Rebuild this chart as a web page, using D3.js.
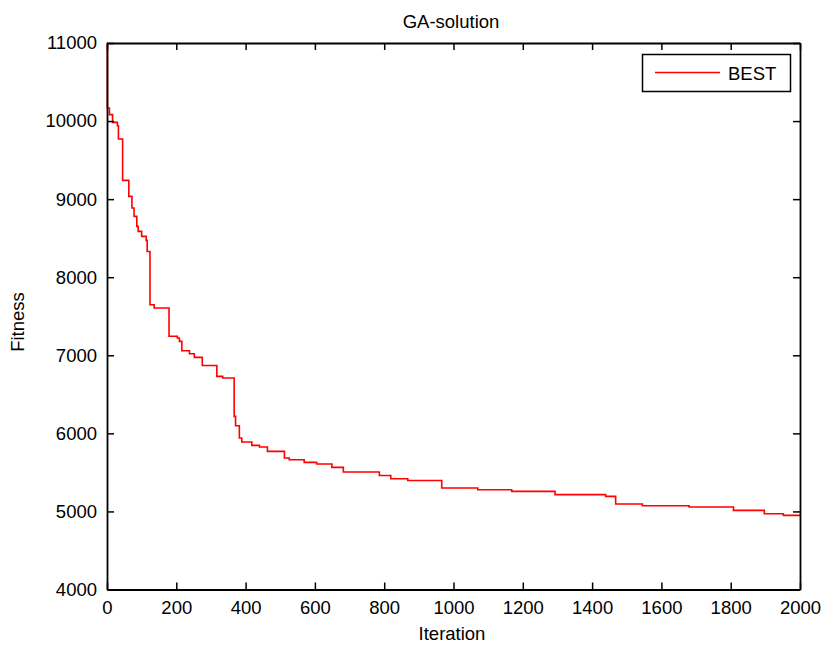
<!DOCTYPE html>
<html>
<head>
<meta charset="utf-8">
<script src="https://cdn.jsdelivr.net/npm/d3@7"></script>
<style>
  body { margin: 0; background: #fff; }
  text { font-family: "Liberation Sans", Arial, sans-serif; fill: #000; }
</style>
</head>
<body>
<svg width="825" height="645"></svg>
<script>
// data: iterations where the best fitness changes, and the new value
const iterations = [0, 1, 7, 16, 30, 33, 45, 63, 72, 78, 86, 90, 100, 113, 116, 124, 136,
  179, 203, 209, 216, 238, 252, 275, 317, 334, 367, 371, 382, 389, 418, 440, 463, 512,
  526, 569, 605, 649, 682, 786, 819, 868, 966, 1070, 1168, 1293, 1439, 1468, 1545, 1680,
  1808, 1897, 1952, 2000];
const fitness = [11000, 10168, 10082, 9983, 9941, 9770, 9240, 9035, 8887, 8779, 8651, 8587,
  8523, 8472, 8330, 7648, 7606, 7243, 7221, 7178, 7059, 7020, 6973, 6870, 6730, 6709,
  6217, 6098, 5940, 5889, 5846, 5825, 5769, 5684, 5662, 5628, 5607, 5564, 5505, 5461,
  5419, 5397, 5300, 5278, 5257, 5215, 5193, 5095, 5073, 5056, 5013, 4971, 4950, 4950];
const xTicks = d3.range(0, 2001, 200);
const yTicks = d3.range(4000, 11001, 1000);

const svg = d3.select("svg");
const mLeft = 107, mRight = 800, mTop = 43, mBottom = 589.5;

const x = d3.scaleLinear().domain([0, 2000]).range([mLeft, mRight]);
const y = d3.scaleLinear().domain([4000, 11000]).range([mBottom, mTop]);

const pts = iterations.map((d, i) => [d, fitness[i]]);

// curve
svg.append("path")
  .datum(pts)
  .attr("fill", "none")
  .attr("stroke", "#ff0000")
  .attr("stroke-width", 1.6)
  .attr("d", d3.line().x(d => x(d[0])).y(d => y(d[1])).curve(d3.curveStepAfter));

// axes (ticks pointing inward, mirrored on top and right)
const styleAxis = g => {
  g.selectAll(".domain").attr("stroke", "#000").attr("stroke-width", 1.8);
  g.selectAll(".tick line").attr("stroke", "#000").attr("stroke-width", 1.5);
  g.selectAll("text").attr("font-size", "18.5px").attr("font-family", "Liberation Sans, Arial, sans-serif");
};

svg.append("g")
  .attr("transform", `translate(0,${mBottom})`)
  .call(d3.axisBottom(x).tickValues(xTicks).tickSizeInner(-7).tickSizeOuter(0).tickPadding(11).tickFormat(d3.format("d")))
  .call(styleAxis);

svg.append("g")
  .attr("transform", `translate(0,${mTop})`)
  .call(d3.axisTop(x).tickValues(xTicks).tickSizeInner(-7).tickSizeOuter(0).tickFormat(""))
  .call(styleAxis);

svg.append("g")
  .attr("transform", `translate(${mLeft},0)`)
  .call(d3.axisLeft(y).tickValues(yTicks).tickSizeInner(-7).tickSizeOuter(0).tickPadding(10).tickFormat(d3.format("d")))
  .call(styleAxis);

svg.append("g")
  .attr("transform", `translate(${mRight},0)`)
  .call(d3.axisRight(y).tickValues(yTicks).tickSizeInner(-7).tickSizeOuter(0).tickFormat(""))
  .call(styleAxis);

// title and labels
svg.append("text")
  .attr("x", 451).attr("y", 28)
  .attr("text-anchor", "middle")
  .attr("font-size", "18.5px")
  .text("GA-solution");

svg.append("text")
  .attr("x", 452).attr("y", 640)
  .attr("text-anchor", "middle")
  .attr("font-size", "18.5px")
  .text("Iteration");

svg.append("text")
  .attr("transform", "translate(24,322) rotate(-90)")
  .attr("text-anchor", "middle")
  .attr("font-size", "18.5px")
  .text("Fitness");

// legend
const lg = svg.append("g");
lg.append("rect")
  .attr("x", 642.5).attr("y", 54.5)
  .attr("width", 148).attr("height", 37)
  .attr("fill", "#fff")
  .attr("stroke", "#000")
  .attr("stroke-width", 1.5);
lg.append("line")
  .attr("x1", 655).attr("x2", 720)
  .attr("y1", 72.5).attr("y2", 72.5)
  .attr("stroke", "#ff0000")
  .attr("stroke-width", 1.6);
lg.append("text")
  .attr("x", 728).attr("y", 80)
  .attr("font-size", "18.5px")
  .text("BEST");
</script>
</body>
</html>
